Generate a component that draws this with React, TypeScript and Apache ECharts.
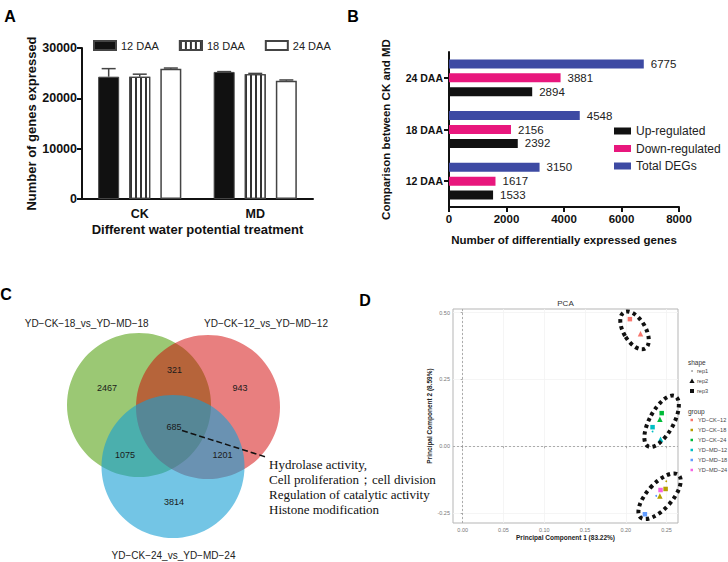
import React, { useEffect, useRef } from 'react';
import * as echarts from 'echarts';

// ---------- Panel A data ----------
const aCategories = ['CK', 'MD'];
const aSeriesNames = ['12 DAA', '18 DAA', '24 DAA'];
const aMean12 = [24300, 25250];
const aMean18 = [24300, 24800];
const aMean24 = [25900, 23500];
const aErr12 = [1600, 60];
const aErr18 = [500, 150];
const aErr24 = [120, 150];

// ---------- Panel B data ----------
const bCategories = ['12 DAA', '18 DAA', '24 DAA'];
const bSeriesNames = ['Up-regulated', 'Down-regulated', 'Total DEGs'];
const bUp = [1533, 2392, 2894];
const bDown = [1617, 2156, 3881];
const bTotal = [3150, 4548, 6775];

// ---------- Panel C data ----------
const vennSetNames = ['YD−CK−18_vs_YD−MD−18', 'YD−CK−12_vs_YD−MD−12', 'YD−CK−24_vs_YD−MD−24'];
const vennRegionKeys = ['18', '12', '24', '18&12', '18&24', '12&24', 'all'];
const vennCounts = [2467, 943, 3814, 321, 1075, 1201, 685];
const vennTerms = ['Hydrolase activity,', 'Cell proliferation；cell division', 'Regulation of catalytic activity', 'Histone modification'];

// ---------- Panel D data ----------
const pcaGroups = ['YD−CK−12', 'YD−CK−18', 'YD−CK−24', 'YD−MD−12', 'YD−MD−18', 'YD−MD−24'];
const pcaReps = ['rep1', 'rep2', 'rep3'];
const pcaCK12 = [[0.205, 0.476, 3], [0.218, 0.421, 2]];
const pcaCK18 = [[0.2488, -0.16, 3], [0.2418, -0.186, 2], [0.2496, -0.131, 1]];
const pcaCK24 = [[0.244, 0.124, 3], [0.2418, 0.101, 2]];
const pcaMD12 = [[0.2328, 0.0714, 3], [0.2426, 0.0264, 2], [0.2328, 0.055, 1]];
const pcaMD18 = [[0.2234, -0.2548, 3], [0.2373, -0.186, 1]];
const pcaMD24 = [[0.2426, -0.164, 3]];
const pcaXTicks = [0, 0.05, 0.1, 0.15, 0.2, 0.25];
const pcaYTicks = [-0.25, 0, 0.25, 0.5];

// ---------- layout / style (not data) ----------
const FONT = "'Liberation Sans', Arial, Helvetica, sans-serif";
const SERIF = "'Liberation Serif', 'Times New Roman', serif";
const pcaColors = ['#F8766D', '#B79F00', '#00BA38', '#00BFC4', '#619CFF', '#F564E3'];
const vennCircles = [
  { cx: 139, cy: 405, r: 72, fill: 'rgb(155,200,116)' },
  { cx: 208, cy: 407, r: 72, fill: 'rgba(210,0,0,0.5)' },
  { cx: 173, cy: 466.5, r: 71.5, fill: 'rgba(22,158,212,0.6)' },
];
const vennLabelPos = [[107, 388], [240, 388], [174, 502], [174.5, 370], [125, 455], [222.5, 455], [174, 427]];
const vennSetPos = [[86.7, 323], [266, 323], [173.5, 555]];
const pcaEllipses = [
  { x: 0.2107, y: 0.434, rx: 11, ry: 21, rot: 0.53 },
  { x: 0.2439, y: 0.0936, rx: 12, ry: 28.5, rot: -0.5 },
  { x: 0.2414, y: -0.1873, rx: 12.5, ry: 28.5, rot: -0.73 },
];

export default function App() {
  const ref = useRef<HTMLDivElement>(null);

  useEffect(() => {
    document.body.style.margin = '0';
    const chart = echarts.init(ref.current as HTMLDivElement, null, { renderer: 'svg' });

    const aMeans = [aMean12, aMean18, aMean24];
    const aErrs = [aErr12, aErr18, aErr24];
    const errData: number[][] = [];
    aMeans.forEach((m, si) => m.forEach((v, ci) => errData.push([ci, v, aErrs[si][ci], si])));

    const aStyles = [
      { color: '#111', borderColor: '#444', borderWidth: 1 },
      {
        color: '#fff', borderColor: '#444', borderWidth: 1.2,
        decal: { symbol: 'rect', symbolSize: 1, color: '#333', dashArrayX: [1.2, 3], dashArrayY: [4, 0], rotation: 0 },
      },
      { color: '#fff', borderColor: '#444', borderWidth: 1.5 },
    ];

    const bValues = [bUp, bDown, bTotal];
    const bColors = ['#111111', '#e8177d', '#3d4aa3'];
    // horizontal bars stack top-down in series order: Total on top, Up at bottom
    const bDrawOrder = [2, 1, 0];
    const pcaData = [pcaCK12, pcaCK18, pcaCK24, pcaMD12, pcaMD18, pcaMD24];
    const plain = (v: number) => String(v);

    const option: any = {
      animation: false,
      textStyle: { fontFamily: FONT },
      grid: [
        { left: 82, top: 48, width: 231, height: 151 },
        { left: 449, top: 52, width: 230, height: 155 },
        { left: 453, top: 309, width: 225, height: 214, show: true, borderColor: '#b5b5b5', borderWidth: 1, backgroundColor: '#fff' },
      ],
      xAxis: [
        {
          gridIndex: 0, type: 'category', data: aCategories,
          axisLine: { lineStyle: { color: '#111', width: 2 } }, axisTick: { show: false },
          axisLabel: { fontWeight: 'bold', fontSize: 12.5, color: '#111', margin: 8 },
          name: 'Different water potential treatment', nameLocation: 'middle', nameGap: 24,
          nameTextStyle: { fontWeight: 'bold', fontSize: 13, color: '#111' },
        },
        {
          gridIndex: 1, type: 'value', min: 0, max: 8000, interval: 2000,
          axisLine: { show: true, lineStyle: { color: '#111', width: 2 } },
          axisTick: { show: true, length: 5, lineStyle: { color: '#111', width: 2 } },
          axisLabel: { fontWeight: 'bold', fontSize: 11.5, color: '#111', margin: 6, formatter: plain },
          splitLine: { show: false },
          name: 'Number of differentially expressed genes', nameLocation: 'middle', nameGap: 27,
          nameTextStyle: { fontWeight: 'bold', fontSize: 11.5, color: '#111' },
        },
        {
          gridIndex: 2, type: 'value', min: -0.0119, max: 0.264,
          axisLine: { show: false },
          axisTick: { show: true, length: 2, lineStyle: { color: '#999', width: 0.8 }, customValues: pcaXTicks },
          axisLabel: { fontSize: 5.5, color: '#777', margin: 4, customValues: pcaXTicks, formatter: (v: number) => v.toFixed(2) },
          splitLine: { show: true, lineStyle: { color: '#f3f3f3', width: 0.8 } },
          name: 'Principal Component 1 (83.22%)', nameLocation: 'middle', nameGap: 11,
          nameTextStyle: { fontWeight: 'bold', fontSize: 6.5, color: '#222' },
        },
      ],
      yAxis: [
        {
          gridIndex: 0, type: 'value', min: 0, max: 30000, interval: 10000,
          axisLine: { show: true, lineStyle: { color: '#111', width: 2 } },
          axisTick: { show: true, length: 5, lineStyle: { color: '#111', width: 2 } },
          axisLabel: { fontWeight: 'bold', fontSize: 12.5, color: '#111', margin: 5, formatter: plain },
          splitLine: { show: false },
          name: 'Number of genes expressed', nameLocation: 'middle', nameGap: 42,
          nameTextStyle: { fontWeight: 'bold', fontSize: 13, color: '#111' },
        },
        {
          gridIndex: 1, type: 'category', data: bCategories,
          axisLine: { lineStyle: { color: '#111', width: 2 } },
          axisTick: { show: true, alignWithLabel: true, length: 5, lineStyle: { color: '#111', width: 2 } },
          axisLabel: { fontWeight: 'bold', fontSize: 10.5, color: '#111', margin: 6 },
          name: 'Comparison between CK and MD', nameLocation: 'middle', nameGap: 57,
          nameTextStyle: { fontWeight: 'bold', fontSize: 11.5, color: '#111' },
        },
        {
          gridIndex: 2, type: 'value', min: -0.2875, max: 0.514,
          axisLine: { show: false },
          axisTick: { show: true, length: 2, lineStyle: { color: '#999', width: 0.8 }, customValues: pcaYTicks },
          axisLabel: { fontSize: 5.5, color: '#777', margin: 3, customValues: pcaYTicks, formatter: (v: number) => v.toFixed(2) },
          splitLine: { show: true, lineStyle: { color: '#f3f3f3', width: 0.8 } },
          name: 'Principal Component 2 (8.59%)', nameLocation: 'middle', nameGap: 20,
          nameTextStyle: { fontWeight: 'bold', fontSize: 6.5, color: '#222' },
        },
      ],
      legend: [
        {
          data: aSeriesNames, left: 93, top: 40, padding: 0, itemWidth: 22, itemHeight: 9, itemGap: 20,
          icon: 'rect', textStyle: { fontSize: 11, color: '#222' },
        },
        {
          data: bSeriesNames, left: 614, top: 124, padding: 0, orient: 'vertical', itemWidth: 17, itemHeight: 7, itemGap: 3.5,
          icon: 'rect', textStyle: { fontSize: 12, color: '#222', lineHeight: 14 },
        },
        {
          data: pcaGroups, left: 690.5, top: 416.5, padding: 0, orient: 'vertical', itemWidth: 2.5, itemHeight: 2.5, itemGap: 3,
          icon: 'rect', textStyle: { fontSize: 5.6, color: '#444', lineHeight: 7 },
        },
      ],
      series: [
        ...aSeriesNames.map((name, i) => ({
          name, type: 'bar', xAxisIndex: 0, yAxisIndex: 0, data: aMeans[i],
          barWidth: 21, barGap: '48%', itemStyle: aStyles[i],
        })),
        {
          name: 'errorbars', type: 'custom', xAxisIndex: 0, yAxisIndex: 0, data: errData, z: 5,
          encode: { x: 0, y: 1 },
          renderItem: (params: any, api: any) => {
            const ci = api.value(0), v = api.value(1), e = api.value(2), si = api.value(3);
            const base = api.coord([ci, v]);
            const top = api.coord([ci, v + e]);
            const x = base[0] + (si - 1) * 21 * 1.48;
            const st = { stroke: '#444', lineWidth: 1.5 };
            return {
              type: 'group',
              children: [
                { type: 'line', shape: { x1: x, y1: base[1], x2: x, y2: top[1] }, style: st },
                { type: 'line', shape: { x1: x - 7, y1: top[1], x2: x + 7, y2: top[1] }, style: st },
              ],
            };
          },
        },
        ...bDrawOrder.map((i) => ({
          name: bSeriesNames[i], type: 'bar', xAxisIndex: 1, yAxisIndex: 1, data: bValues[i],
          barWidth: 9, barGap: '55%', itemStyle: { color: bColors[i] },
          label: { show: true, position: 'right', distance: 7, fontSize: 11.5, color: '#222' },
        })),
        ...pcaGroups.map((name, i) => ({
          name, type: 'scatter', xAxisIndex: 2, yAxisIndex: 2, data: pcaData[i],
          symbol: (v: number[]) => (v[2] === 1 ? 'circle' : v[2] === 2 ? 'triangle' : 'rect'),
          symbolSize: (v: number[]) => (v[2] === 1 ? 1.8 : v[2] === 2 ? 5.5 : 4.5),
          itemStyle: { color: pcaColors[i], opacity: 1 },
          z: 4,
          markLine: i === 0 ? {
            silent: true, symbol: 'none', label: { show: false },
            lineStyle: { type: [2, 2], color: '#999', width: 0.8 },
            data: [{ xAxis: 0 }, { yAxis: 0 }],
          } : undefined,
        })),
      ],
    };
    chart.setOption(option);

    const txt = (text: string, x: number, y: number, opts: any = {}) => ({
      type: 'text', x, y, silent: true,
      style: {
        text, align: opts.align || 'center', verticalAlign: 'middle',
        fontFamily: opts.family || FONT, fontSize: opts.size || 10, fontWeight: opts.weight || 'normal',
        fill: opts.fill || '#222',
      },
    });

    const graphics: any[] = [];
    // panel letters
    graphics.push(txt('A', 10, 16, { size: 16, weight: 'bold', fill: '#000' }));
    graphics.push(txt('B', 353, 16, { size: 16, weight: 'bold', fill: '#000' }));
    graphics.push(txt('C', 6, 294, { size: 16, weight: 'bold', fill: '#000' }));
    graphics.push(txt('D', 365, 300, { size: 16, weight: 'bold', fill: '#000' }));

    // Venn
    vennCircles.forEach((c) => graphics.push({
      type: 'circle', silent: true, shape: { cx: c.cx, cy: c.cy, r: c.r }, style: { fill: c.fill },
    }));
    vennCounts.forEach((n, i) => graphics.push(txt(String(n), vennLabelPos[i][0], vennLabelPos[i][1], { size: 9, fill: '#1a1a1a' })));
    vennSetNames.forEach((s, i) => graphics.push(txt(s, vennSetPos[i][0], vennSetPos[i][1], { size: 10, fill: '#222' })));
    graphics.push({
      type: 'line', silent: true, shape: { x1: 182, y1: 430.5, x2: 266, y2: 457 },
      style: { stroke: '#111', lineWidth: 1.5, lineDash: [6, 3] },
    });
    vennTerms.forEach((t, i) => graphics.push(txt(t, 269, 464 + i * 15.2, { size: 13, family: SERIF, align: 'left', fill: '#111' })));

    // PCA title and shape legend
    graphics.push(txt('PCA', 565.5, 303, { size: 8, fill: '#333' }));
    graphics.push(txt('shape', 688, 362, { size: 6.5, align: 'left', fill: '#333' }));
    graphics.push(txt('group', 688, 411, { size: 6.5, align: 'left', fill: '#333' }));
    pcaReps.forEach((r, i) => {
      const cy = 371 + i * 10;
      graphics.push(txt(r, 697, cy, { size: 5.6, align: 'left', fill: '#444' }));
      if (i === 0) graphics.push({ type: 'circle', silent: true, shape: { cx: 692, cy, r: 0.9 }, style: { fill: '#999' } });
      if (i === 1) graphics.push({ type: 'polygon', silent: true, shape: { points: [[692, cy - 2.6], [694.6, cy + 2], [689.4, cy + 2]] }, style: { fill: '#111' } });
      if (i === 2) graphics.push({ type: 'rect', silent: true, shape: { x: 690, y: cy - 2, width: 4, height: 4 }, style: { fill: '#111' } });
    });

    // dotted ellipses around clusters
    pcaEllipses.forEach((e) => {
      const p = chart.convertToPixel({ xAxisIndex: 2, yAxisIndex: 2 }, [e.x, e.y]) as number[];
      graphics.push({
        type: 'ellipse', silent: true, x: p[0], y: p[1], rotation: e.rot, z: 100,
        shape: { cx: 0, cy: 0, rx: e.rx, ry: e.ry },
        style: { fill: 'none', stroke: '#111', lineWidth: 4, lineDash: [3.5, 3.5] },
      });
    });

    chart.setOption({ graphic: graphics });
    return () => chart.dispose();
  }, []);

  return <div ref={ref} style={{ width: 728, height: 562 }} />;
}
